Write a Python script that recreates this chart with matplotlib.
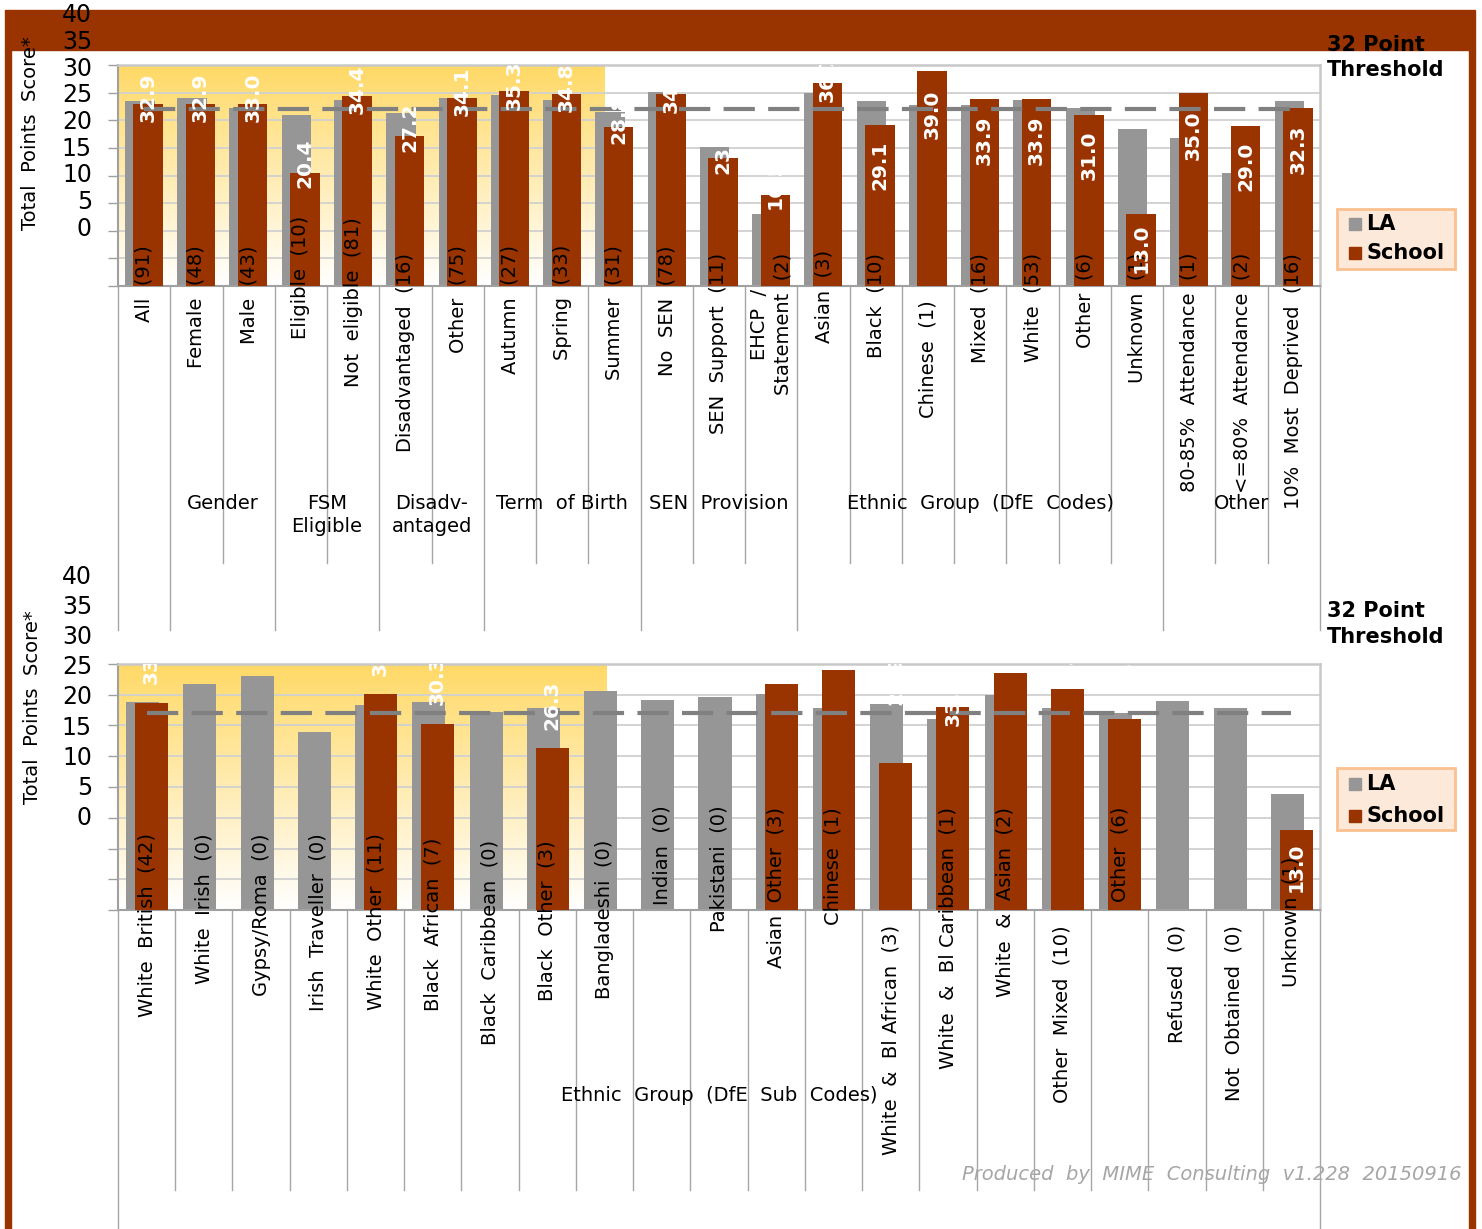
import numpy as np
import matplotlib
matplotlib.use('Agg')
import matplotlib.pyplot as plt
import matplotlib.transforms as mtransforms
from matplotlib.patches import Rectangle

# --- data: top panel (pupil groups) ---
top_cats = ["All  (91)", "Female  (48)", "Male  (43)", "Eligible  (10)", "Not  eligible  (81)",
            "Disadvantaged  (16)", "Other  (75)", "Autumn  (27)", "Spring  (33)", "Summer  (31)",
            "No  SEN  (78)", "SEN  Support  (11)", "EHCP  /\nStatement  (2)", "Asian  (3)",
            "Black  (10)", "Chinese  (1)", "Mixed  (16)", "White  (53)", "Other  (6)",
            "Unknown  (1)", "80-85%  Attendance  (1)", "<=80%  Attendance  (2)",
            "10%  Most  Deprived  (16)"]
top_la = [33.4, 34.1, 32.3, 30.9, 33.7, 31.4, 34.1, 34.6, 33.7, 31.5, 35.1, 25.2, 13.0,
          35.0, 33.5, 32.8, 32.8, 33.7, 32.2, 28.4, 26.8, 20.4, 33.5]
top_school = [32.9, 32.9, 33.0, 20.4, 34.4, 27.2, 34.1, 35.3, 34.8, 28.8, 34.7, 23.1, 16.5,
              36.7, 29.1, 39.0, 33.9, 33.9, 31.0, 13.0, 35.0, 29.0, 32.3]
top_groups = [("", 0, 1), ("Gender", 1, 3), ("FSM\nEligible", 3, 5), ("Disadv-\nantaged", 5, 7),
              ("Term  of Birth", 7, 10), ("SEN  Provision", 10, 13),
              ("Ethnic  Group  (DfE  Codes)", 13, 20), ("Other", 20, 23)]

# --- data: bottom panel (ethnic sub codes) ---
bot_cats = ["White  British  (42)", "White  Irish  (0)", "Gypsy/Roma  (0)", "Irish  Traveller  (0)",
            "White  Other  (11)", "Black  African  (7)", "Black  Caribbean  (0)", "Black  Other  (3)",
            "Bangladeshi  (0)", "Indian  (0)", "Pakistani  (0)", "Asian  Other  (3)", "Chinese  (1)",
            "White  &  Bl African  (3)", "White  &  Bl Caribbean  (1)", "White  &  Asian  (2)",
            "Other  Mixed  (10)", "Other  (6)", "Refused  (0)", "Not  Obtained  (0)", "Unknown  (1)"]
bot_la = [33.9, 36.7, 38.0, 28.9, 33.3, 33.9, 32.2, 32.9, 35.6, 34.1, 34.7, 35.1, 32.9,
          33.5, 31.0, 35.0, 32.9, 32.1, 34.0, 32.9, 18.9]
bot_school = [33.7, None, None, None, 35.1, 30.3, None, 26.3, None, None, None, 36.7, 39.0,
              23.9, 33.0, 38.5, 36.0, 31.0, None, None, 13.0]
bot_groups = [("Ethnic  Group  (DfE  Sub  Codes)", 0, 21)]

threshold = 32
y_ticks = list(range(0, 45, 5))

# --- colours ---
BROWN = '#993300'
GREY_BAR = '#969696'
GRID = '#D0D0D0'
AXIS = '#A0A0A0'
YELLOW = np.array([255, 217, 102]) / 255.0

# --- layout (pixels of the 1482x1229 canvas) ---
W, H = 1482, 1229
# where each rotated category label ends (top, px) -- Excel placed them unevenly
top_lbl_end = [245, 245, 245, 216, 217, 253, 245, 245, 245, 245, 245, 253, 253,
               250, 253, 300, 253, 253, 253, 253, 253, 253, 253]
bot_lbl_end = [833, 833, 833, 833, 833, 838, 840, 840, 840, 805, 805, 807, 807,
               925, 807, 807, 925, 807, 925, 925, 857]
bot_val_shift = [7, 0, 0, 0, 7, 7, 0, 7, 0, 0, 0, 8, 8, 13.5, 1, 8, 8, 9, 0, 0, -6]


def fx(px):
    return px / W


def fy(py):
    return 1 - py / H


fig = plt.figure(figsize=(W / 100, H / 100), dpi=100, facecolor='white')

# brown frame
fig.patches.append(Rectangle((fx(5), fy(50)), fx(1475) - fx(5), fy(10) - fy(50),
                             transform=fig.transFigure, color=BROWN, zorder=-5))
fig.patches.append(Rectangle((fx(5), 0), fx(6), fy(50), transform=fig.transFigure,
                             color=BROWN, zorder=-5))
fig.patches.append(Rectangle((fx(1469), 0), fx(6), fy(50), transform=fig.transFigure,
                             color=BROWN, zorder=-5))


def panel(top_px, bot_px, cats, la, school, groups, lbl_end, val_pos, yellow_end,
          la_off, sc_off, width, tick_px, inner_len, outer_len, group_y):
    n = len(cats)
    ax = fig.add_axes([fx(118), fy(bot_px), fx(1320) - fx(118), fy(top_px) - fy(bot_px)])
    h_px = bot_px - top_px
    x = np.arange(n)

    # yellow gradient backdrop on the left part
    t = np.linspace(1, 0, 256)[:, None, None]
    img = np.ones((256, 1, 3)) * (1 - t) + YELLOW * t
    ax.imshow(img, extent=[-0.5, yellow_end, 0, 40], aspect='auto', zorder=0,
              interpolation='bilinear')

    for v in y_ticks[1:-1]:
        ax.axhline(v, color=GRID, lw=1.3, zorder=1)

    ax.bar(x + la_off, la, width=width, color=GREY_BAR, zorder=2)
    sc = np.array([np.nan if v is None else v for v in school], dtype=float)
    ax.bar(x + sc_off, np.nan_to_num(sc), width=width, color=BROWN, zorder=3)

    ax.plot(x, [threshold] * n, color='#808080', lw=3, dashes=(7.5, 3.2), zorder=4)

    ax.set_xlim(-0.5, n - 0.5)
    ax.set_ylim(0, 40)
    ax.set_xticks([])
    ax.set_yticks(y_ticks)
    ax.set_yticklabels([])
    ax.tick_params(axis='y', length=7, width=1, color=AXIS, direction='out')
    for s in ['left', 'bottom']:
        ax.spines[s].set_color(AXIS)
        ax.spines[s].set_linewidth(1.5)
    for s in ['top', 'right']:
        ax.spines[s].set_color('#C8C8C8')
        ax.spines[s].set_linewidth(1.8)

    trans = mtransforms.blended_transform_factory(ax.transData, ax.transAxes)

    # separators under the axis
    starts = {g[1] for g in groups} | {n}
    for b in range(n + 1):
        ln = outer_len if b in starts else inner_len
        ax.plot([b - 0.5, b - 0.5], [0, -ln / h_px], transform=trans, color='#A6A6A6',
                lw=1, clip_on=False, zorder=1)

    # category labels
    for i, lab in enumerate(cats):
        ax.text(i, (bot_px - lbl_end[i]) / h_px, lab, transform=trans, rotation=90,
                ha='center', va='top', fontsize=14, multialignment='center',
                linespacing=1.3, zorder=5)

    # group labels
    for name, a, b in groups:
        if name:
            ax.text((a + b) / 2 - 0.5, (bot_px - group_y) / h_px, name, transform=trans,
                    ha='center', va='top', fontsize=14, linespacing=1.3,
                    multialignment='center')

    # school value labels
    for i, v in enumerate(sc):
        if np.isnan(v):
            continue
        ax.text(i + sc_off, val_pos(i, v), f"{v:.1f}", rotation=90, ha='center', va='center',
                color='white', fontweight='bold', fontsize=14.5, clip_on=True, zorder=6)

    # y tick labels, drawn where the original put them
    for k in y_ticks:
        fig.text(fx(92), fy(tick_px(k)), str(k), ha='right', va='center', fontsize=17)
    return ax


def top_pos(i, v):
    return 2.71 + 0.955 * v if i <= 13 else -5.4 + 0.935 * v


def bot_pos(i, v):
    return v + bot_val_shift[i]


panel(65, 286, top_cats, top_la, top_school, top_groups, top_lbl_end, top_pos,
      8.8, -0.084, 0.078, 0.565, lambda k: 229 - k * 5.35, 277, 344, 494)
panel(664, 910, bot_cats, bot_la, bot_school, bot_groups, bot_lbl_end, bot_pos,
      8.04, -0.07, 0.085, 0.577, lambda k: 818 - k * 6.025, 280, 330, 1086)

# axis titles
fig.text(fx(31), fy(133), "Total  Points  Score*", rotation=90, ha='center', va='center',
         fontsize=14)
fig.text(fx(33), fy(707), "Total  Points  Score*", rotation=90, ha='center', va='center',
         fontsize=14)

# threshold notes
for y1, y2 in [(45, 70), (611, 637)]:
    fig.text(fx(1327), fy(y1), "32 Point", ha='left', va='center', fontsize=15,
             fontweight='bold')
    fig.text(fx(1327), fy(y2), "Threshold", ha='left', va='center', fontsize=15,
             fontweight='bold')

# legends
for y0, y1, ya, yb in [(209, 269, 224, 253), (768, 830, 784, 816)]:
    fig.patches.append(Rectangle((fx(1337), fy(y1)), fx(1455) - fx(1337), fy(y0) - fy(y1),
                                 transform=fig.transFigure, facecolor='#FDE9D9',
                                 edgecolor='#FAC090', lw=2))
    for yc, col, name in [(ya, GREY_BAR, "LA"), (yb, BROWN, "School")]:
        fig.patches.append(Rectangle((fx(1349), fy(yc + 6)), fx(12), fy(0) - fy(12),
                                     transform=fig.transFigure, color=col))
        fig.text(fx(1366), fy(yc), name, ha='left', va='center', fontsize=15,
                 fontweight='bold')

fig.text(fx(1462), fy(1174), "Produced  by  MIME  Consulting  v1.228  20150916",
         ha='right', va='center', fontsize=14, style='italic', color='#A6A6A6')

fig.savefig('out.png', dpi=100, facecolor='white')
